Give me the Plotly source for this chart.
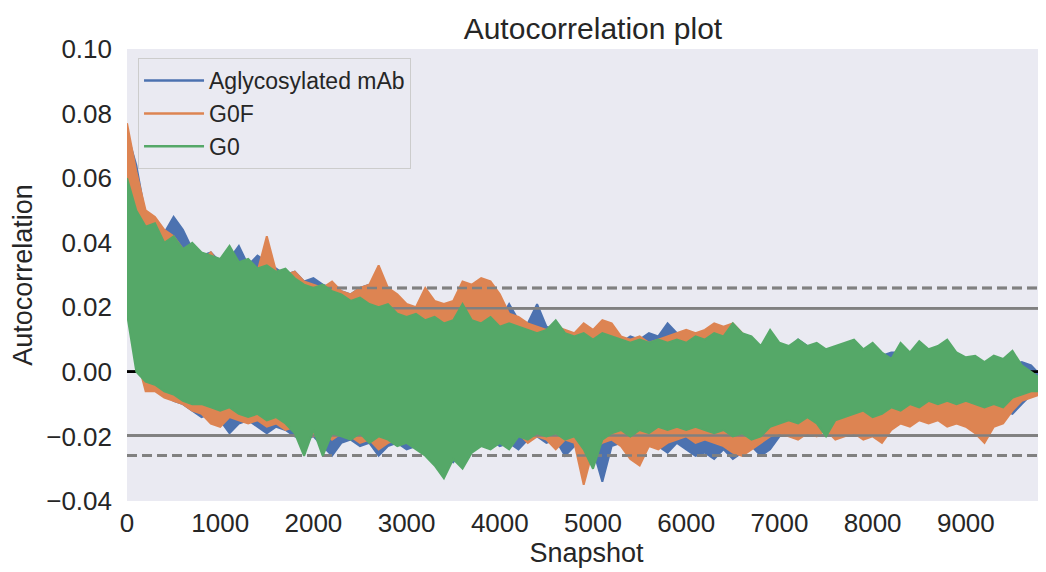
import plotly.graph_objects as go

# ---------------- data ----------------
LAGS = list(range(0, 10000, 100))          # lag positions where envelopes were read
N_OBS = 9860                               # number of lags shown on the x axis
X_TICKS = list(range(0, 10000, 1000))
Z_LEVELS = [2.576, 1.96]                   # 99% and 95% confidence multipliers

SERIES_NAMES = ["Aglycosylated mAb", "G0F", "G0"]

AGLY_HI = [0.074, 0.064, 0.048, 0.046, 0.043, 0.048, 0.044, 0.038, 0.036, 0.037,
           0.034, 0.035, 0.039, 0.033, 0.036, 0.034, 0.032, 0.030, 0.031, 0.028,
           0.029, 0.027, 0.026, 0.025, 0.024, 0.026, 0.027, 0.023, 0.024, 0.022,
           0.020, 0.019, 0.018, 0.019, 0.017, 0.018, 0.017, 0.016, 0.020, 0.017,
           0.016, 0.021, 0.016, 0.015, 0.021, 0.014, 0.013, 0.012, 0.011, 0.012,
           0.010, 0.011, 0.010, 0.009, 0.011, 0.010, 0.012, 0.011, 0.015, 0.012,
           0.011, 0.010, 0.009, 0.010, 0.009, 0.008, 0.009, 0.008, 0.007, 0.011,
           0.008, 0.007, 0.010, 0.008, 0.006, 0.006, 0.006, 0.005, 0.006, 0.005,
           0.004, 0.005, 0.006, 0.006, 0.005, 0.007, 0.007, 0.006, 0.005, 0.004,
           0.003, 0.002, 0.002, 0.002, 0.001, 0.002, 0.003, 0.002, -0.001, -0.002]
AGLY_LO = [0.022, 0.008, -0.003, -0.005, -0.007, -0.009, -0.010, -0.012, -0.014, -0.013,
           -0.015, -0.019, -0.016, -0.015, -0.017, -0.019, -0.017, -0.018, -0.020, -0.021,
           -0.020, -0.023, -0.026, -0.022, -0.021, -0.023, -0.022, -0.026, -0.023, -0.022,
           -0.024, -0.023, -0.022, -0.024, -0.027, -0.028, -0.024, -0.023, -0.022, -0.021,
           -0.023, -0.022, -0.024, -0.021, -0.020, -0.022, -0.021, -0.026, -0.023, -0.022,
           -0.024, -0.034, -0.023, -0.022, -0.021, -0.022, -0.021, -0.023, -0.025, -0.022,
           -0.024, -0.026, -0.025, -0.027, -0.024, -0.027, -0.025, -0.023, -0.026, -0.024,
           -0.020, -0.019, -0.018, -0.017, -0.019, -0.016, -0.017, -0.015, -0.016, -0.014,
           -0.015, -0.017, -0.014, -0.013, -0.012, -0.013, -0.012, -0.011, -0.012, -0.011,
           -0.012, -0.011, -0.012, -0.013, -0.012, -0.013, -0.010, -0.007, -0.006, -0.005]

G0F_HI = [0.077, 0.062, 0.050, 0.048, 0.044, 0.042, 0.038, 0.036, 0.034, 0.037,
          0.033, 0.036, 0.032, 0.034, 0.031, 0.042, 0.031, 0.030, 0.031, 0.028,
          0.027, 0.026, 0.028, 0.025, 0.024, 0.026, 0.027, 0.033, 0.026, 0.024,
          0.021, 0.020, 0.026, 0.022, 0.021, 0.022, 0.028, 0.027, 0.029, 0.028,
          0.024, 0.018, 0.017, 0.015, 0.014, 0.013, 0.014, 0.013, 0.012, 0.015,
          0.013, 0.016, 0.015, 0.011, 0.010, 0.011, 0.009, 0.010, 0.011, 0.012,
          0.013, 0.012, 0.013, 0.015, 0.014, 0.015, 0.012, 0.009, 0.008, 0.009,
          0.008, 0.007, 0.006, 0.005, 0.006, 0.004, 0.003, 0.003, 0.002, 0.002,
          0.001, 0.001, 0.000, 0.000, -0.001, 0.000, -0.001, -0.001, -0.002, -0.002,
          -0.003, -0.003, -0.004, -0.004, -0.003, -0.003, -0.002, -0.002, -0.002, -0.003]
G0F_LO = [0.020, 0.005, -0.006, -0.006, -0.008, -0.009, -0.010, -0.012, -0.013, -0.016,
          -0.017, -0.014, -0.015, -0.016, -0.015, -0.017, -0.016, -0.018, -0.017, -0.019,
          -0.020, -0.018, -0.021, -0.019, -0.020, -0.022, -0.021, -0.024, -0.022, -0.021,
          -0.022, -0.023, -0.021, -0.022, -0.024, -0.023, -0.022, -0.021, -0.020, -0.019,
          -0.021, -0.020, -0.019, -0.022, -0.020, -0.021, -0.024, -0.021, -0.022, -0.035,
          -0.024, -0.022, -0.021, -0.023, -0.027, -0.029, -0.023, -0.024, -0.022, -0.021,
          -0.020, -0.022, -0.021, -0.022, -0.023, -0.025, -0.026, -0.024, -0.022, -0.020,
          -0.019, -0.020, -0.021, -0.019, -0.020, -0.018, -0.021, -0.020, -0.019, -0.021,
          -0.020, -0.022, -0.018, -0.016, -0.017, -0.015, -0.016, -0.015, -0.017, -0.016,
          -0.017, -0.019, -0.022, -0.017, -0.016, -0.012, -0.009, -0.008, -0.007, -0.006]

G0_HI = [0.060, 0.050, 0.045, 0.046, 0.040, 0.042, 0.038, 0.040, 0.037, 0.036,
         0.035, 0.039, 0.034, 0.035, 0.032, 0.033, 0.031, 0.032, 0.029, 0.027,
         0.026, 0.027, 0.025, 0.024, 0.022, 0.023, 0.021, 0.020, 0.021, 0.018,
         0.017, 0.018, 0.016, 0.017, 0.015, 0.016, 0.021, 0.016, 0.015, 0.017,
         0.014, 0.015, 0.014, 0.013, 0.012, 0.013, 0.016, 0.012, 0.011, 0.012,
         0.010, 0.012, 0.011, 0.010, 0.009, 0.010, 0.009, 0.010, 0.009, 0.010,
         0.009, 0.011, 0.010, 0.012, 0.011, 0.015, 0.012, 0.011, 0.008, 0.013,
         0.009, 0.008, 0.010, 0.008, 0.009, 0.007, 0.008, 0.009, 0.010, 0.007,
         0.009, 0.006, 0.004, 0.009, 0.006, 0.0095, 0.007, 0.008, 0.010, 0.006,
         0.0045, 0.005, 0.003, 0.005, 0.004, 0.0065, 0.002, 0.000, -0.002, -0.003]
G0_LO = [0.018, 0.000, -0.003, -0.004, -0.006, -0.007, -0.009, -0.010, -0.010, -0.011,
         -0.012, -0.011, -0.013, -0.014, -0.013, -0.015, -0.014, -0.016, -0.019, -0.026,
         -0.018, -0.026, -0.019, -0.020, -0.021, -0.019, -0.022, -0.020, -0.021, -0.023,
         -0.022, -0.024, -0.026, -0.029, -0.033, -0.027, -0.030, -0.025, -0.023, -0.024,
         -0.022, -0.024, -0.020, -0.021, -0.019, -0.020, -0.019, -0.021, -0.020, -0.024,
         -0.030, -0.021, -0.019, -0.018, -0.020, -0.018, -0.019, -0.017, -0.018, -0.017,
         -0.018, -0.017, -0.018, -0.019, -0.018, -0.020, -0.019, -0.021, -0.020, -0.017,
         -0.016, -0.015, -0.016, -0.014, -0.016, -0.020, -0.015, -0.014, -0.013, -0.012,
         -0.014, -0.013, -0.011, -0.012, -0.010, -0.011, -0.009, -0.010, -0.009, -0.010,
         -0.009, -0.010, -0.011, -0.010, -0.011, -0.008, -0.007, -0.006, -0.006, -0.006]

# ---------------- styling ----------------
COLORS = ["#4C72B0", "#DD8452", "#55A868"]
GREY = "#808080"
TEXT = "#262626"
FONT = "Liberation Sans, Arial, Helvetica, sans-serif"

# the page body has an 8px margin, so the figure is sized to the visible area
FIG_W, FIG_H = 1038, 564

highs = [AGLY_HI, G0F_HI, G0_HI]
lows = [AGLY_LO, G0F_LO, G0_LO]

z99 = Z_LEVELS[0] / N_OBS ** 0.5
z95 = Z_LEVELS[1] / N_OBS ** 0.5
ref_lines = [(z99, "10px,5px", GREY), (z95, "solid", GREY), (0.0, "solid", "black"),
             (-z95, "solid", GREY), (-z99, "10px,5px", GREY)]

fig = go.Figure()
for name, hi, lo, color in zip(SERIES_NAMES, highs, lows, COLORS):
    # reference lines are drawn with every series, before its data
    for val, dash, col in ref_lines:
        fig.add_trace(go.Scatter(x=[0, N_OBS], y=[val, val], mode="lines",
                                 line=dict(color=col, width=2.5, dash=dash),
                                 showlegend=False, hoverinfo="skip"))
    fig.add_trace(go.Scatter(x=LAGS + LAGS[::-1], y=hi + lo[::-1], mode="lines",
                             fill="toself", fillcolor=color,
                             line=dict(color=color, width=2),
                             name=name, showlegend=False))

for name, color in zip(SERIES_NAMES, COLORS):
    fig.add_trace(go.Scatter(x=[None], y=[None], mode="lines",
                             line=dict(color=color, width=2.5), name=name))

fig.update_layout(
    width=FIG_W, height=FIG_H,
    margin=dict(l=119, r=0, t=41, b=71, autoexpand=False),
    paper_bgcolor="white", plot_bgcolor="#EAEAF2",
    font=dict(family=FONT, color=TEXT, size=26),
    title=dict(text="Autocorrelation plot", x=0.507, xref="paper", xanchor="center",
               y=1 - 20 / FIG_H, yref="container", yanchor="middle",
               font=dict(size=30, color=TEXT)),
    showlegend=True,
    legend=dict(x=0.012, y=0.98, xanchor="left", yanchor="top",
                bgcolor="#EAEAF2", bordercolor="#CCCCCC", borderwidth=1,
                itemwidth=60,
                font=dict(size=23, color=TEXT), traceorder="normal"),
    xaxis=dict(range=[0, N_OBS], tickvals=X_TICKS, showgrid=False, zeroline=False,
               showline=False, ticks="", ticklabelstandoff=4, automargin=False,
               tickfont=dict(size=26, color=TEXT),
               title=dict(text="Snapshot", font=dict(size=27, color=TEXT), standoff=4)),
    yaxis=dict(range=[-0.04, 0.10], tick0=0, dtick=0.02, tickformat=".2f",
               showgrid=False, zeroline=False, showline=False, ticks="",
               ticklabelstandoff=14, automargin=False,
               tickfont=dict(size=26, color=TEXT),
               title=dict(text="Autocorrelation", font=dict(size=27, color=TEXT), standoff=6)),
)

fig.write_html("out.html")
